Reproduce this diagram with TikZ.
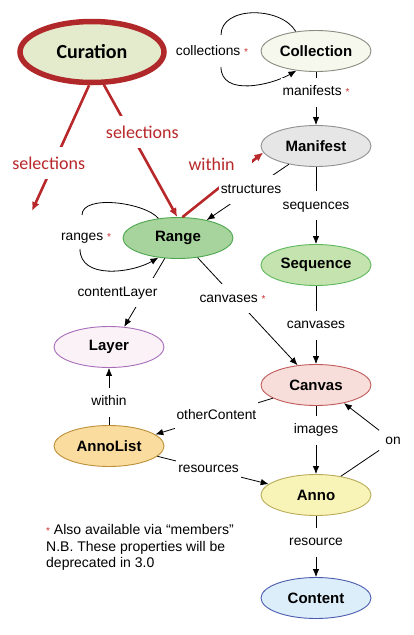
\documentclass[tikz,border=0pt]{standalone}
\usepackage{fontspec}
\setmainfont{Liberation Sans}
\newfontfamily\calibri{Carlito}
\usetikzlibrary{shapes.geometric,arrows.meta}

\definecolor{curfill}{HTML}{E4EBCD}
\definecolor{curred}{HTML}{B0282A}
\definecolor{selred}{HTML}{B8282A}
\definecolor{starred}{HTML}{D03030}
\definecolor{collfill}{HTML}{F6F8EE}
\definecolor{colldraw}{HTML}{8A8A80}
\definecolor{manfill}{HTML}{E6E6E6}
\definecolor{mandraw}{HTML}{909090}
\definecolor{rngfill}{HTML}{A6D49C}
\definecolor{rngdraw}{HTML}{4DA64D}
\definecolor{seqfill}{HTML}{C4E3AE}
\definecolor{seqdraw}{HTML}{5DB85D}
\definecolor{layfill}{HTML}{FBF2F8}
\definecolor{laydraw}{HTML}{A86CB8}
\definecolor{canfill}{HTML}{F8DEDA}
\definecolor{candraw}{HTML}{C05A5A}
\definecolor{alfill}{HTML}{F9DC9E}
\definecolor{aldraw}{HTML}{BD9038}
\definecolor{annofill}{HTML}{F8F4B8}
\definecolor{annodraw}{HTML}{B8AC58}
\definecolor{contfill}{HTML}{DCEEF9}
\definecolor{contdraw}{HTML}{4A5CB0}

\newcommand\redstar{\space{\color{starred}\fontsize{10}{10}\selectfont *}}

\tikzset{
  obj/.style={ellipse, minimum width=110pt, minimum height=41pt, inner sep=0pt,
    line width=0.9pt, font=\fontsize{15}{15}\selectfont\bfseries},
  rel/.style={fill=white, inner xsep=2pt, inner ysep=8pt, text height=10pt,
    text depth=3pt, font=\fontsize{13.8}{14}\selectfont},
  sel/.style={fill=white, inner xsep=2pt, inner ysep=10pt, text height=12pt,
    text depth=0pt, text=selred, font=\calibri\fontsize{18}{18}\selectfont},
  link/.style={line width=0.8pt, -{Latex[length=8pt,width=6.5pt]}},
  redlink/.style={draw=selred, line width=2.6pt, -{Latex[length=9pt,width=8pt]}}
}

\begin{document}
\begin{tikzpicture}[x=1pt,y=1pt]
  \useasboundingbox (0,0) rectangle (413,-635);

  \node[obj, minimum width=144pt, minimum height=61pt, line width=5.5pt,
    draw=curred, fill=curfill, font=\calibri\bfseries\fontsize{20}{20}\selectfont]
    (curation) at (92,-52) {Curation};
  \node[obj, draw=colldraw, fill=collfill] (collection) at (316,-51) {Collection};
  \node[obj, draw=mandraw, fill=manfill] (manifest) at (316,-146) {Manifest};
  \node[obj, draw=rngdraw, fill=rngfill] (range) at (178,-238) {Range};
  \node[obj, draw=seqdraw, fill=seqfill] (sequence) at (316,-265) {Sequence};
  \node[obj, draw=laydraw, fill=layfill] (layer) at (109,-347) {Layer};
  \node[obj, draw=candraw, fill=canfill] (canvas) at (316,-385) {Canvas};
  \node[obj, draw=aldraw, fill=alfill] (annolist) at (109,-446) {AnnoList};
  \node[obj, draw=annodraw, fill=annofill] (anno) at (316,-495) {Anno};
  \node[obj, draw=contdraw, fill=contfill] (content) at (316,-598) {Content};

  \coordinate (selend) at (32,-211);
  \draw[redlink] (curation.265) -- node[sel, pos=.62, xshift=-5pt] {selections} (selend);
  \draw[redlink] (curation.290) -- node[sel, pos=.36, xshift=12pt] {selections} (range.92);
  \draw[redlink] (range.78) -- node[sel, pos=.67, xshift=-25pt, yshift=9pt,
    inner xsep=17pt, inner ysep=11pt] {within} (manifest.187);

  \node[rel] (colls) at (212,-52) {collections\redstar};
  \draw[line width=0.8pt] (collection.136) to[out=120,in=90] ([shift={(9,17)}]colls.center);
  \draw[link] ([shift={(9,-15)}]colls.center) to[out=-90,in=210] (collection.225);
  \node[rel] (rngs) at (86,-237) {ranges\redstar};
  \draw[line width=0.8pt] (range.135) to[out=130,in=90,looseness=.7] ([shift={(-4,22)}]rngs.center);
  \draw[link] ([shift={(-6,-12)}]rngs.center) to[out=-90,in=210] (range.225);

  \draw[link] (collection) -- node[rel, pos=.38] {manifests\redstar} (manifest);
  \draw[link] (manifest) -- node[rel] {sequences} (sequence);
  \draw[link] (sequence) -- node[rel] {canvases} (canvas);
  \draw[link] (canvas) -- node[rel, pos=.36] {images} (anno);
  \draw[link] (anno) -- node[rel, pos=.43] {resource} (content);
  \draw[link] (manifest.214) -- node[rel, pos=.46] {structures} (range.32);
  \draw[link] (range.237) -- node[rel, xshift=-27pt] {contentLayer} (layer.53);
  \draw[link] (range.315) -- node[rel, pos=.38, xshift=-3pt] {canvases\redstar} (canvas.133);
  \draw[link] (annolist) -- node[rel, pos=.4] {within} (layer);
  \draw[link] (canvas.197) -- node[rel, pos=.48] {otherContent} (annolist.14);
  \draw[link] (annolist.348) -- node[rel, pos=.46] {resources} (anno.167);
  \node[rel, inner xsep=6pt] (onlbl) at (393,-441) {on};
  \draw[link] (anno.37) -- (onlbl) -- (canvas.327);

  \node[anchor=north west, align=left, inner sep=0pt, font=\fontsize{14}{16.7}\selectfont]
    (note) at (46,-524) {{\color{starred}\fontsize{10}{10}\selectfont *} Also available via “members”\\
    N.B. These properties will be\\deprecated in 3.0};
\end{tikzpicture}
\end{document}
